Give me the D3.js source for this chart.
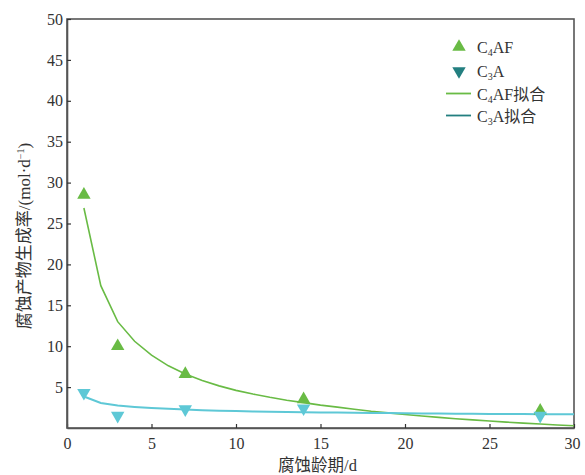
<!DOCTYPE html>
<html>
<head>
<meta charset="utf-8">
<script src="https://cdn.jsdelivr.net/npm/d3@7/dist/d3.min.js"></script>
<style>
  html, body { margin: 0; padding: 0; background: #fff; }
  svg text { font-family: "Liberation Serif", "Noto Sans CJK SC", serif; fill: #333; }
</style>
</head>
<body>
<svg id="chart" width="585" height="475"></svg>
<script>
// Measured corrosion-product formation rates (mol·d⁻¹) by corrosion age (d)
const ages = [1, 3, 7, 14, 28];
const c4afRate = [28.5, 10.0, 6.6, 3.5, 2.1];
const c3aRate = [4.3, 1.5, 2.3, 2.4, 1.5];

// Fitted curves, sampled at each day from 1 to 30
const fitDays = d3.range(1, 31);
const c4afFit = [26.9, 17.4, 13.0, 10.6, 8.9, 7.6, 6.6, 5.8, 5.15, 4.6,
                 4.15, 3.75, 3.4, 3.1, 2.8, 2.55, 2.3, 2.05, 1.85, 1.65,
                 1.47, 1.3, 1.14, 0.99, 0.85, 0.72, 0.6, 0.48, 0.37, 0.27];
const c3aFit = [3.85, 3.05, 2.75, 2.58, 2.45, 2.35, 2.25, 2.18, 2.12, 2.07,
                2.03, 1.99, 1.96, 1.93, 1.9, 1.88, 1.86, 1.84, 1.82, 1.8,
                1.78, 1.76, 1.75, 1.73, 1.72, 1.71, 1.7, 1.69, 1.68, 1.67];

const xTicks = [0, 5, 10, 15, 20, 25, 30];
const yTicks = [5, 10, 15, 20, 25, 30, 35, 40, 45, 50];

const green = "#69bb45";
const cyan = "#5ec8d6";
const teal = "#237f80";
const axisColor = "#555";

const svg = d3.select("#chart");
const margin = { left: 67, right: 11, top: 19, bottom: 47 };
const W = 585, H = 475;

const x = d3.scaleLinear().domain([0, 30]).range([margin.left, W - margin.right]);
const y = d3.scaleLinear().domain([0, 50]).range([H - margin.bottom, margin.top]);

// Frame
svg.append("rect")
  .attr("x", x(0)).attr("y", y(50))
  .attr("width", x(30) - x(0)).attr("height", y(0) - y(50))
  .attr("fill", "none").attr("stroke", axisColor).attr("stroke-width", 1.6);

// Axes with inward ticks
const xAxis = svg.append("g").attr("transform", `translate(0,${y(0)})`)
  .call(d3.axisBottom(x).tickValues(xTicks).tickSizeInner(-4).tickSizeOuter(0).tickPadding(10));
const yAxis = svg.append("g").attr("transform", `translate(${x(0)},0)`)
  .call(d3.axisLeft(y).tickValues(yTicks).tickSizeInner(-4).tickSizeOuter(0).tickPadding(4));
[xAxis, yAxis].forEach(g => {
  g.select(".domain").attr("stroke", axisColor).attr("stroke-width", 1.6);
  g.selectAll(".tick line").attr("stroke", "#333").attr("stroke-width", 1.2);
  g.selectAll(".tick text").attr("font-size", 16).attr("fill", "#333")
    .style("font-family", "'Liberation Serif', serif");
});
xAxis.selectAll(".tick").filter(d => d === 30).select("text").attr("dx", -2);

// Fitted curves
const line = d3.line().x((d, i) => x(fitDays[i])).y(d => y(d));
svg.append("path").datum(c4afFit).attr("d", line)
  .attr("fill", "none").attr("stroke", green).attr("stroke-width", 1.6);
svg.append("path").datum(c3aFit).attr("d", line)
  .attr("fill", "none").attr("stroke", cyan).attr("stroke-width", 2);

// Measured points
const tri = d3.symbol().type(d3.symbolTriangle).size(78);
svg.append("g").selectAll("path").data(c4afRate).join("path")
  .attr("d", tri)
  .attr("transform", (d, i) => `translate(${x(ages[i])},${y(d)})`)
  .attr("fill", green);
svg.append("g").selectAll("path").data(c3aRate).join("path")
  .attr("d", tri)
  .attr("transform", (d, i) => `translate(${x(ages[i])},${y(d)}) rotate(180)`)
  .attr("fill", cyan);

// Legend
const legend = svg.append("g");
const legendRows = [
  { kind: "up", color: green, main: "C", sub: "4", rest: "AF", y: 47 },
  { kind: "down", color: teal, main: "C", sub: "3", rest: "A", y: 71 },
  { kind: "line", color: green, main: "C", sub: "4", rest: "AF拟合", y: 93.5 },
  { kind: "line", color: teal, main: "C", sub: "3", rest: "A拟合", y: 115.5 }
];
legendRows.forEach(r => {
  if (r.kind === "line") {
    legend.append("line").attr("x1", 446).attr("x2", 471)
      .attr("y1", r.y).attr("y2", r.y)
      .attr("stroke", r.color).attr("stroke-width", 1.8);
  } else {
    legend.append("path").attr("d", tri)
      .attr("transform", `translate(459,${r.y})${r.kind === "down" ? " rotate(180)" : ""}`)
      .attr("fill", r.color);
  }
  const t = legend.append("text").attr("x", 477).attr("y", r.y + 6).attr("font-size", 16);
  t.append("tspan").text(r.main);
  t.append("tspan").text(r.sub).attr("font-size", 10).attr("dy", 3);
  t.append("tspan").text(r.rest).attr("dy", -3);
});

// Axis titles
svg.append("text")
  .attr("x", (x(0) + x(30)) / 2 - 3).attr("y", 471)
  .attr("text-anchor", "middle").attr("font-size", 16.5)
  .text("腐蚀龄期/d");

const yt = svg.append("text")
  .attr("transform", `translate(30,${236}) rotate(-90)`)
  .attr("text-anchor", "middle").attr("font-size", 17);
yt.append("tspan").text("腐蚀产物生成率/(mol·d");
yt.append("tspan").text("−1").attr("font-size", 10).attr("dy", -6);
yt.append("tspan").text(")").attr("dy", 6);
</script>
</body>
</html>
